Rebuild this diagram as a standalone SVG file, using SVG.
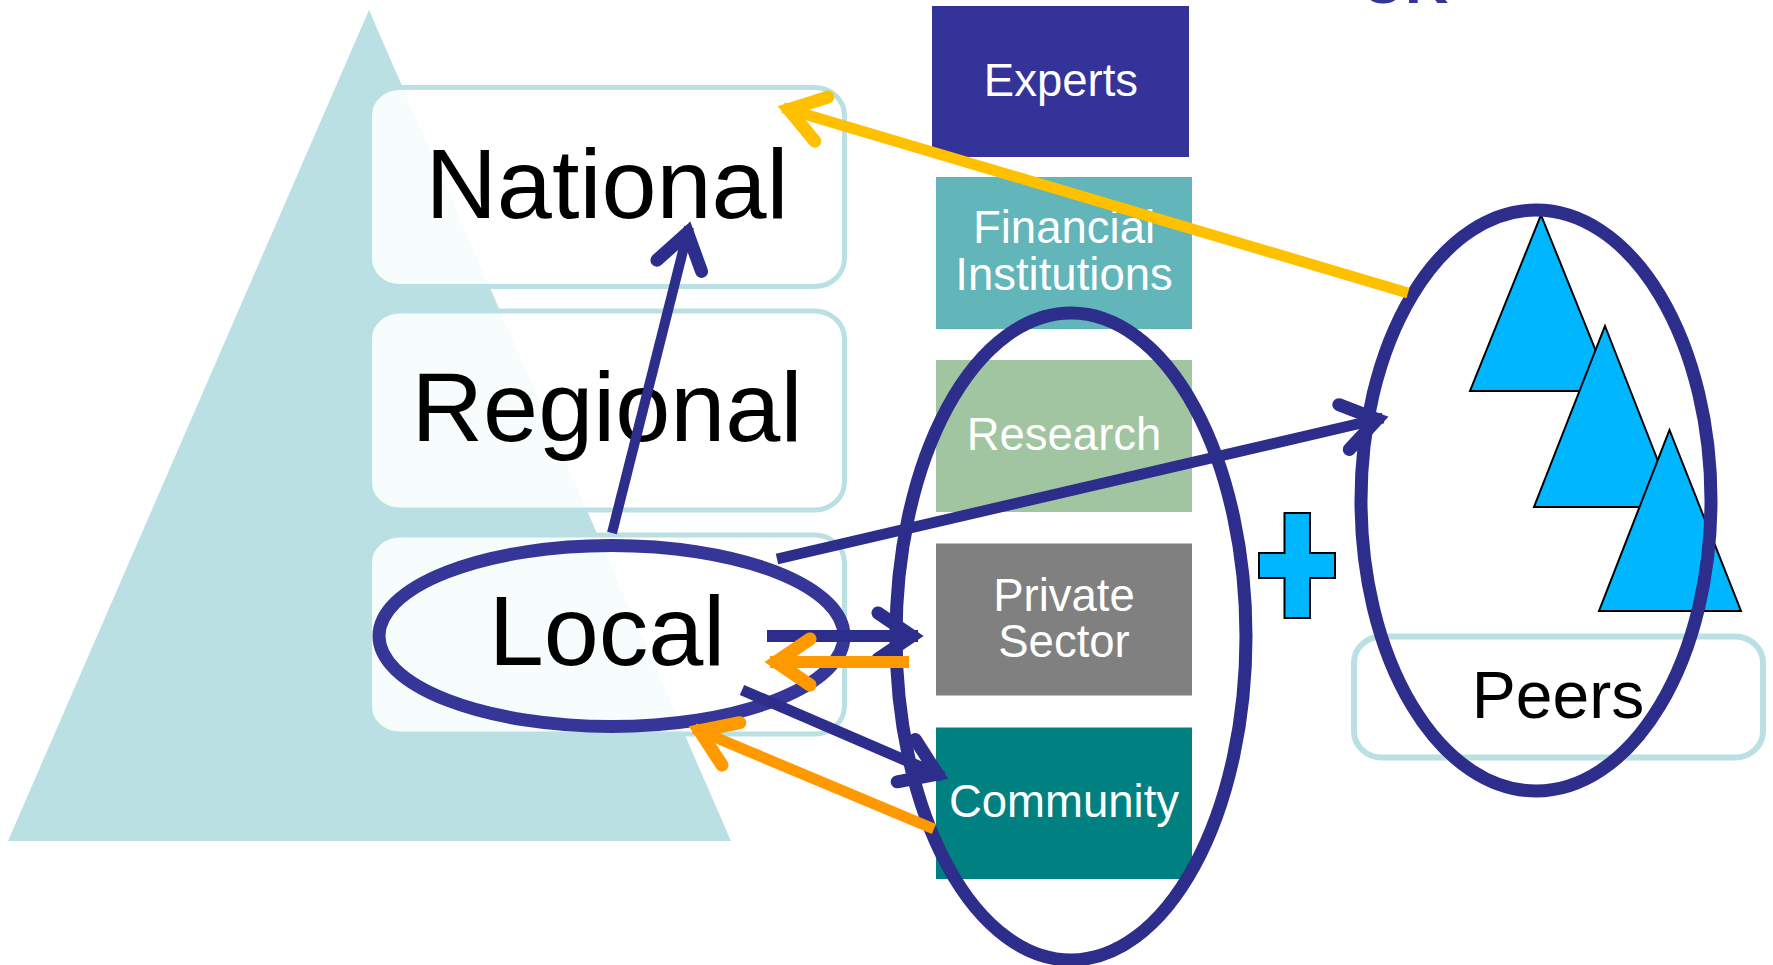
<svg xmlns="http://www.w3.org/2000/svg" width="1773" height="965" viewBox="0 0 1773 965">
<style>
text{font-family:"Liberation Sans",Arial,sans-serif;text-anchor:middle}
.lvl{fill:rgba(255,255,255,.88);stroke:#BBE0E3;stroke-width:5}
.big{font-size:99px;fill:#000}
.box{font-size:45.500px;fill:#fff}
.tri{fill:#00B6FF;stroke:#000;stroke-width:2}
.oval{fill:none;stroke:#2D2D8C;stroke-width:13}
.ln{fill:none}
.b{stroke:#2D2D8C}.y{stroke:#FFC000}.o{stroke:#FF9900}
.wing{fill:none;stroke-width:13;stroke-linecap:round;stroke-linejoin:miter;stroke-miterlimit:10}
</style>
<defs>
<marker id="ab" markerUnits="userSpaceOnUse" markerWidth="60" markerHeight="60" orient="auto" overflow="visible"><path class="wing b" d="M-40,-23 L-6,0 L-40,23"/></marker>
<marker id="ay" markerUnits="userSpaceOnUse" markerWidth="60" markerHeight="60" orient="auto" overflow="visible"><path class="wing y" d="M-40,-23 L-6,0 L-40,23"/></marker>
<marker id="ao" markerUnits="userSpaceOnUse" markerWidth="60" markerHeight="60" orient="auto" overflow="visible"><path class="wing o" d="M-40,-23 L-6,0 L-40,23"/></marker>
</defs>
<g id="title"><text x="1405" y="3" font-size="60" font-weight="700" fill="#333399">UK</text></g>
<g id="pyramid"><polygon points="369,10 731,841 8,841" fill="#BBE0E3"/></g>
<g id="national"><rect class="lvl" x="369.500" y="87.500" width="475" height="199" rx="30" ry="28"/><text class="big" x="607" y="218">National</text></g>
<g id="regional"><rect class="lvl" x="369.500" y="311" width="475" height="199" rx="30" ry="28"/><text class="big" x="607" y="441">Regional</text></g>
<g id="local"><rect class="lvl" x="369.500" y="535" width="475" height="199" rx="30" ry="28"/><text class="big" x="607" y="665">Local</text></g>
<g id="experts"><rect x="932" y="6" width="257" height="151" fill="#333399"/><text class="box" x="1061" y="96">Experts</text></g>
<g id="financial"><rect x="936" y="177" width="256" height="152" fill="#62B5B9"/><text class="box" x="1064" y="243">Financial</text><text class="box" x="1064" y="290">Institutions</text></g>
<g id="research"><rect x="936" y="360" width="256" height="152" fill="#A0C5A0"/><text class="box" x="1064" y="450">Research</text></g>
<g id="private"><rect x="936" y="543.500" width="256" height="152" fill="#808080"/><text class="box" x="1064" y="611">Private</text><text class="box" x="1064" y="657">Sector</text></g>
<g id="community"><rect x="936" y="727.500" width="256" height="151.500" fill="#008080"/><text class="box" x="1064" y="817">Community</text></g>
<g id="peers"><rect class="lvl" x="1354" y="636.500" width="409" height="121" rx="28" ry="26" style="fill:none;stroke-width:6"/><text x="1558" y="718" font-size="66" fill="#000">Peers</text></g>
<g id="peer-triangles"><polygon class="tri" points="1541,215 1612,391 1470,391"/><polygon class="tri" points="1605,326 1676,507 1534,507"/><polygon class="tri" points="1669.500,430 1741,611 1599,611"/></g>
<g id="plus"><polygon class="tri" points="1284.500,513 1310,513 1310,553 1335,553 1335,578 1310,578 1310,618 1284.500,618 1284.500,578 1259,578 1259,553 1284.500,553"/></g>
<g id="local-oval"><ellipse class="oval" style="stroke:#363698" cx="611.500" cy="636" rx="232.500" ry="90.500"/></g>
<g id="sector-oval"><ellipse class="oval" cx="1071" cy="636.500" rx="175" ry="323.500"/></g>
<g id="peer-oval"><ellipse class="oval" cx="1536" cy="500.500" rx="175" ry="290.500"/></g>
<g id="connectors">
<path class="ln y" stroke-width="11" marker-end="url(#ay)" d="M1408,293 L783,107.800"/>
<path class="ln b" stroke-width="10" marker-end="url(#ab)" d="M612,533 L689,227"/>
<path class="ln b" stroke-width="11" marker-end="url(#ab)" d="M777,559 L1383,418"/>
<path class="ln b" stroke-width="12" marker-end="url(#ab)" d="M767,636 L918,636"/>
<path class="ln o" stroke-width="12" marker-end="url(#ao)" d="M909,662 L770,662"/>
<path class="ln b" stroke-width="11" marker-end="url(#ab)" d="M742,690 L943,776.500"/>
<path class="ln o" stroke-width="11" marker-end="url(#ao)" d="M934,829 L694,728.500"/>
</g>
</svg>
